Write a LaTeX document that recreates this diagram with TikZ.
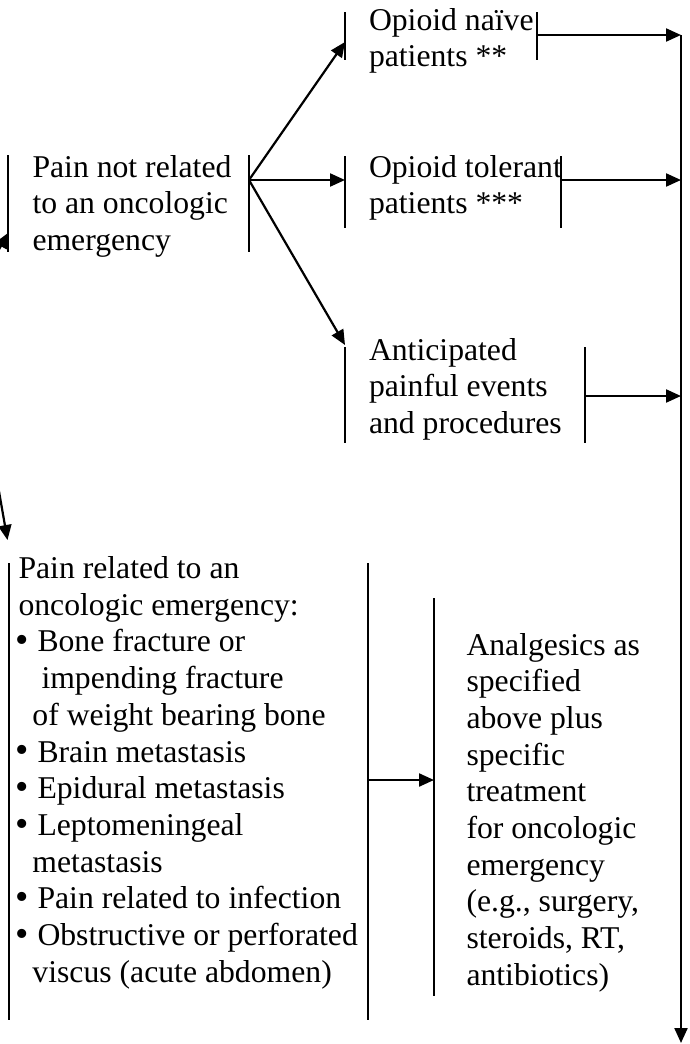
\documentclass[tikz,border=0pt]{standalone}
\usepackage{fontspec}
\setmainfont{Liberation Serif}
\usetikzlibrary{arrows.meta,calc}
\newcommand{\bul}{\makebox[22pt][l]{\raisebox{-0.6pt}{\scalebox{1.2}{•}}}}
\begin{document}
\begin{tikzpicture}[x=1pt,y=-1pt,
  side/.style={line width=2.2pt},
  arr/.style={line width=2.2pt,-{Triangle[length=15pt,width=13pt]}},
  area/.style={draw=none,inner sep=0pt,outer sep=0pt},
  txt/.style={inner sep=0pt,outer sep=0pt,anchor=base west,align=left,
    font=\fontsize{31.7pt}{36.7pt}\selectfont}]
\useasboundingbox (0,0) rectangle (690,1044);
\fill[white] (0,0) rectangle (690,1044);
\clip (0,0) rectangle (690,1044);

% box areas (only the side lines are drawn)
\node[area,minimum width=241pt,minimum height=97pt] (pnr) at (128.5,203.5) {};
\node[area,minimum width=192pt,minimum height=48pt] (naive) at (441,36) {};
\node[area,minimum width=216pt,minimum height=72pt] (tol) at (453,192) {};
\node[area,minimum width=240pt,minimum height=96pt] (antic) at (465,395) {};
\node[area,minimum width=359pt,minimum height=457pt] (emerg) at (188.5,791.5) {};
\node[area,minimum width=226pt,minimum height=398pt] (analg) at (547,797) {};

\foreach \b in {pnr,naive,tol,antic,emerg}{
  \draw[side] (\b.north west) -- (\b.south west) (\b.north east) -- (\b.south east);
}
\draw[side] (analg.north west) -- (analg.south west);

% texts (anchor = baseline of the last line)
\node[txt] (pnrT) at (32.5,250.4) {Pain not related\\to an oncologic\\emergency};
\node[txt] (naiveT) at (369,66.7) {Opioid naïve\\patients **};
\node[txt] (tolT) at (369,213.7) {Opioid tolerant\\patients ***};
\node[txt] (anticT) at (369,433.4) {Anticipated\\painful events\\and procedures};
\node[txt] (emergT) at (15.5,982.2) {\hspace*{3pt}Pain related to an\\
\hspace*{3pt}oncologic emergency:\\
\bul Bone fracture or\\
\hspace*{26pt}impending fracture\\
\hspace*{17pt}of weight bearing bone\\
\bul Brain metastasis\\
\bul Epidural metastasis\\
\bul Leptomeningeal\\
\hspace*{17pt}metastasis\\
\bul Pain related to infection\\
\bul Obstructive or perforated\\
\hspace*{17pt}viscus (acute abdomen)};
\node[txt] (analgT) at (466.5,985.3) {Analgesics as\\specified\\above plus\\specific\\treatment\\for oncologic\\emergency\\(e.g., surgery,\\steroids, RT,\\antibiotics)};

% trunk
\coordinate (trunkTop) at (681,35);
\coordinate (trunkEnd) at (681,1043);
\draw[arr] (trunkTop) -- (trunkEnd);

% connectors
\coordinate (pnrOut) at ([yshift=23.5pt]pnr.east);
\draw[arr] (pnrOut) -- ([yshift=-6pt]naive.west);
\draw[arr] (pnrOut) -- ([yshift=12pt]tol.west);
\draw[arr] (pnrOut) -- ([yshift=50pt]antic.west);

\coordinate (naiveOut) at ([yshift=1pt]naive.east);
\coordinate (tolOut) at ([yshift=12pt]tol.east);
\coordinate (anticOut) at ([yshift=-1pt]antic.east);
\draw[arr] (naiveOut) -- (trunkTop |- naiveOut);
\draw[arr] (tolOut) -- (trunkTop |- tolOut);
\draw[arr] (anticOut) -- (trunkTop |- anticOut);

\coordinate (emergOut) at ([yshift=11.5pt]emerg.east);
\draw[arr] (emergOut) -- (analg.west |- emergOut);

% arrows from the parent outside the picture
\coordinate (src1) at (-40,320);
\coordinate (pnrIn) at ([yshift=-29.5pt]pnr.west);
\draw[arr] (src1) -- (pnrIn);
\coordinate (src2) at (-10,440);
\coordinate (emergIn) at ([shift={(-1.5pt,23pt)}]emerg.north west);
\draw[arr] (src2) -- (emergIn);
\end{tikzpicture}
\end{document}
